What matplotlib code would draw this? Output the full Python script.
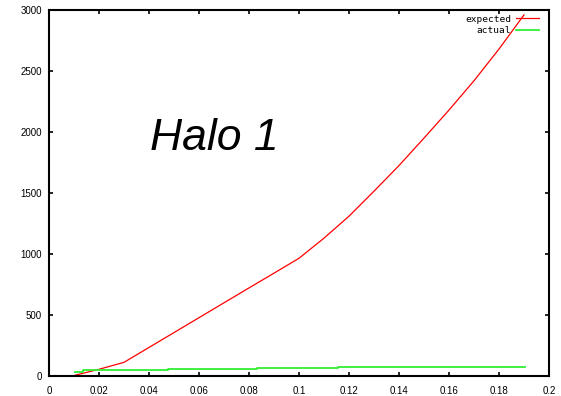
import matplotlib
matplotlib.use('Agg')
import matplotlib.pyplot as plt

# expected curve
x_expected = [0.0104, 0.02, 0.03, 0.04, 0.05, 0.06, 0.07, 0.08, 0.09, 0.10,
              0.11, 0.12, 0.13, 0.14, 0.15, 0.16, 0.17, 0.18, 0.19]
y_expected = [6, 55, 112, 234, 356, 478, 600, 722, 843, 965,
              1130, 1310, 1515, 1725, 1950, 2180, 2420, 2680, 2960]

# actual (stepwise)
x_actual = [0.0104, 0.0135, 0.0476, 0.083, 0.1155, 0.1904]
y_actual = [35, 50, 55, 63, 74, 74]

title_text = 'Halo 1'
series_names = ['expected', 'actual']
x_ticks = [0, 0.02, 0.04, 0.06, 0.08, 0.1, 0.12, 0.14, 0.16, 0.18, 0.2]
x_ticklabels = ['0', '0.02', '0.04', '0.06', '0.08', '0.1', '0.12', '0.14', '0.16', '0.18', '0.2']
y_ticks = [0, 500, 1000, 1500, 2000, 2500, 3000]

fig = plt.figure(figsize=(5.61, 3.96), dpi=100)
ax = fig.add_axes([49 / 561, 1 - 376 / 396, 500 / 561, 366 / 396])

ax.plot(x_expected, y_expected, color='#ff0000', lw=0.9, label=series_names[0])
ax.plot(x_actual, y_actual, color='#33ee33', lw=1.3, drawstyle='steps-post',
        label=series_names[1])

ax.set_xlim(0, 0.2)
ax.set_ylim(0, 3000)
ax.set_xticks(x_ticks)
ax.set_xticklabels(x_ticklabels)
ax.set_yticks(y_ticks)
ax.tick_params(direction='in', length=3, width=1.2, top=True, right=True,
               labelsize=7, colors='black')
ax.tick_params(axis='x', pad=7)
ax.tick_params(axis='y', pad=5)
for lbl in ax.get_xticklabels() + ax.get_yticklabels():
    lbl.set_family('Liberation Sans')
for sp in ax.spines.values():
    sp.set_linewidth(1.5)

leg = ax.legend(loc='upper right', bbox_to_anchor=(546 / 561, 1 - 8 / 396),
                bbox_transform=fig.transFigure, markerfirst=False, frameon=False,
                prop={'family': 'DejaVu Sans Mono', 'size': 6.8},
                handlelength=2.5, handletextpad=0.5, labelspacing=0.25,
                borderaxespad=0.3)

fig.text(150 / 561, 1 - 150 / 396, title_text, family='Liberation Sans',
         style='italic', fontsize=32, va='baseline', ha='left')

fig.savefig('out.png', dpi=100)
